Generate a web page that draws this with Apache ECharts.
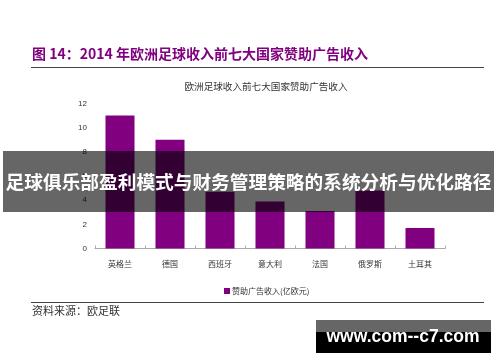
<!DOCTYPE html>
<html>
<head>
<meta charset="utf-8">
<script src="https://cdn.jsdelivr.net/npm/echarts@6/dist/echarts.min.js"></script>
<style>
html,body{margin:0;padding:0;background:#fff;}
#c{width:500px;height:362px;}
</style>
</head>
<body>
<div id="c"></div>
<script>
var categories = ['英格兰', '德国', '西班牙', '意大利', '法国', '俄罗斯', '土耳其'];
var sponsorValues = [11.0, 9.0, 4.7, 3.9, 3.1, 4.8, 1.7];
var seriesName = '赞助广告收入(亿欧元)';
var yMin = 0, yMax = 12, yInterval = 2;
var figureTitle = '图 14：2014 年欧洲足球收入前七大国家赞助广告收入';
var chartTitle = '欧洲足球收入前七大国家赞助广告收入';
var sourceText = '资料来源：欧足联';
var bannerText = '足球俱乐部盈利模式与财务管理策略的系统分析与优化路径';
var watermarkText = 'www.com--c7.com';

var cjk = '"Noto Sans CJK SC", "Noto Sans", sans-serif';
var chart = echarts.init(document.getElementById('c'), null, {renderer: 'canvas'});
chart.setOption({
  animation: false,
  backgroundColor: '#fff',
  title: {
    text: chartTitle,
    left: 261, top: 77, textAlign: 'center',
    textStyle: {fontFamily: cjk, fontSize: 9.6, fontWeight: 'normal', color: '#333'}
  },
  legend: {
    data: [seriesName],
    left: 219, top: 282,
    icon: 'rect', itemWidth: 6, itemHeight: 6, itemGap: 2,
    textStyle: {fontFamily: cjk, fontSize: 8, color: '#333', padding: [0,0,0,-3]}
  },
  grid: {left: 95, right: 55, top: 103.5, bottom: 113.5, containLabel: false},
  xAxis: {
    type: 'category', data: categories,
    axisLine: {lineStyle: {color: '#aaa', width: 1}},
    axisTick: {show: true, inside: true, length: 3, lineStyle: {color: '#aaa'}},
    axisLabel: {fontFamily: cjk, fontSize: 8, color: '#333', margin: 11}
  },
  yAxis: {
    type: 'value', min: yMin, max: yMax, interval: yInterval,
    axisLine: {show: false}, axisTick: {show: false},
    splitLine: {show: false},
    axisLabel: {fontFamily: 'Arial, "Liberation Sans", sans-serif', fontSize: 8, color: '#333', margin: 8}
  },
  series: [{
    name: seriesName, type: 'bar', data: sponsorValues,
    barWidth: '58%',
    itemStyle: {color: '#800080'}
  }],
  graphic: [
    {type: 'text', left: 32, top: 47, z: 10,
     style: {text: figureTitle, fontFamily: cjk, fontSize: 14, fontWeight: 'bold', fill: '#800080'}},
    {type: 'line', shape: {x1: 31, y1: 67.5, x2: 484, y2: 67.5}, style: {stroke: '#444', lineWidth: 1}},
    {type: 'line', shape: {x1: 31, y1: 302.5, x2: 484, y2: 302.5}, style: {stroke: '#444', lineWidth: 1}},
    {type: 'text', left: 32, top: 305, z: 10,
     style: {text: sourceText, fontFamily: cjk, fontSize: 11, fill: '#333'}},
    {type: 'rect', shape: {x: 3, y: 151, width: 491, height: 61}, z: 100,
     style: {fill: 'rgba(0,0,0,0.6)'}},
    {type: 'text', x: 248.5, y: 182, z: 101,
     style: {text: bannerText, fontFamily: cjk, fontSize: 18.7, fontWeight: 'bold', fill: '#fff',
             align: 'center', verticalAlign: 'middle'}},
    {type: 'rect', shape: {x: 316, y: 320, width: 175, height: 33}, z: 100,
     style: {fill: new echarts.graphic.LinearGradient(0, 0, 0, 1, [
       {offset: 0, color: '#666'}, {offset: 0.36, color: '#666'},
       {offset: 0.37, color: '#000'}, {offset: 1, color: '#000'}])}},
    {type: 'text', x: 403, y: 337, z: 101,
     style: {text: watermarkText, fontFamily: 'Arial, "Liberation Sans", sans-serif', fontSize: 17.5, fontWeight: 'bold', fill: '#fff',
             align: 'center', verticalAlign: 'middle'}}
  ]
});
</script>
</body>
</html>
